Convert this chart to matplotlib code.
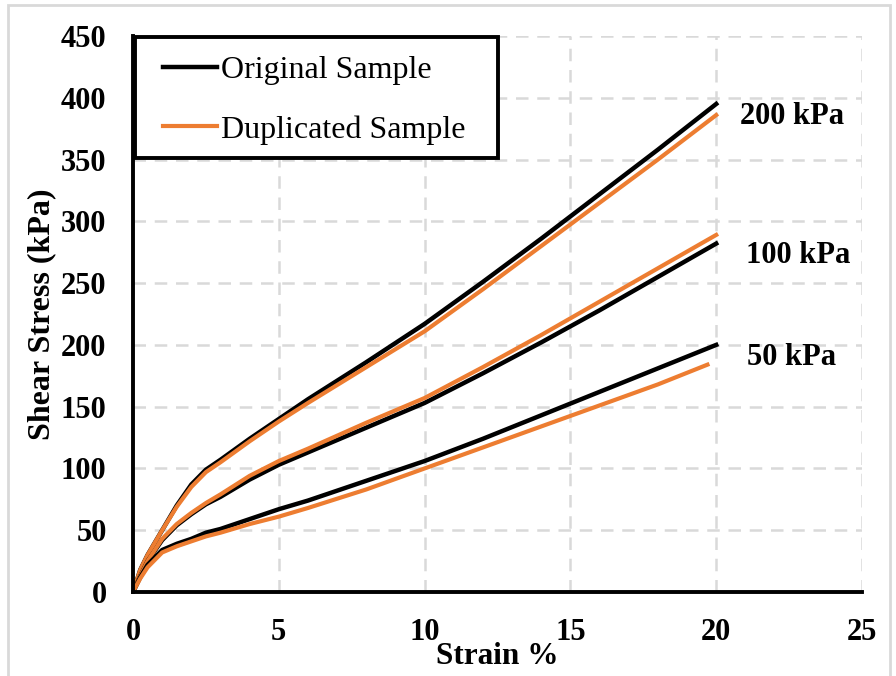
import numpy as np
import matplotlib.pyplot as plt
from matplotlib.patches import Rectangle

# strain (%) values where the curves were read
strain = [0, 0.25, 0.5, 1, 1.5, 2, 2.5, 3, 4, 5, 6, 8, 10, 12, 14, 16, 18, 20]
strain_dup50 = [0, 0.25, 0.5, 1, 1.5, 2, 2.5, 3, 4, 5, 6, 8, 10, 12, 14, 16, 18, 19.7]

# shear stress (kPa) for each normal stress
orig_200 = [0, 18, 30, 50, 70, 87, 99, 107, 124, 140, 156, 186, 217, 251, 286, 322, 358, 395]
dup_200 = [0, 18, 30, 50, 69, 85, 97, 105, 122, 138, 153, 182, 211, 245, 280, 315, 350, 386]
orig_100 = [0, 13, 25, 42, 54, 63, 71, 77, 91, 103, 113, 133, 153, 177, 202, 228, 255, 282]
dup_100 = [0, 13, 25, 43, 55, 64, 72, 79, 94, 106, 116, 137, 157, 182, 208, 235, 262, 289]
orig_50 = [0, 12, 22, 34, 39, 43, 48, 51, 59, 67, 74, 90, 106, 124, 143, 162, 181, 200]
dup_50 = [0, 11, 20, 32, 37, 41, 45, 48, 55, 61, 68, 83, 100, 117, 134, 151, 168, 184]

labels = ["200 kPa", "100 kPa", "50 kPa"]
label_pos = [(22.6, 385), (22.8, 272), (22.6, 190)]

plt.rcParams['font.family'] = ['Liberation Serif', 'DejaVu Serif']

fig = plt.figure(figsize=(8.96, 6.76), dpi=100)
ax = fig.add_axes([133/896, 1 - 592/676, 729/896, 556/676])

# 灰色外框
fig.patches.append(Rectangle((8/896, -0.01), 882/896, 1 - 5/676 + 0.01,
                             transform=fig.transFigure, fill=False,
                             edgecolor='#d9d9d9', lw=2))

blk = 'black'
org = '#ED7D31'
ax.plot(strain, orig_200, color=blk, lw=3.2, label="Original Sample")
ax.plot(strain, dup_200, color=org, lw=3, label="Duplicated Sample")
ax.plot(strain, orig_100, color=blk, lw=3.2)
ax.plot(strain, dup_100, color=org, lw=3)
ax.plot(strain, orig_50, color=blk, lw=3.2)
ax.plot(strain_dup50, dup_50, color=org, lw=3)

for t, (x, y) in zip(labels, label_pos):
    ax.text(x, y, t, fontsize=22, fontweight='bold', ha='center', va='center')

ax.set_xlim(0, 25)
ax.set_ylim(0, 450)
ax.set_xticks(np.arange(0, 26, 5))
ax.set_yticks(np.arange(0, 451, 50))
ax.tick_params(length=0, labelsize=22, pad=19)
for lab in ax.get_xticklabels() + ax.get_yticklabels():
    lab.set_fontweight('bold')

ax.grid(True, color='#d9d9d9', ls=(0, (5, 3.5)), lw=1.8)
ax.spines['top'].set_visible(False)
ax.spines['right'].set_visible(False)
ax.spines['left'].set_linewidth(2.8)
ax.spines['bottom'].set_linewidth(2.8)

ax.set_xlabel("Strain %", fontsize=22.5, fontweight='bold', labelpad=-4)
ax.set_ylabel("Shear Stress (kPa)", fontsize=23, fontweight='bold', labelpad=3)

# legend box drawn separately so the padding can follow the original
ax.add_patch(Rectangle((0.003, (592 - 158)/556), (498 - 135)/729, 121/556,
                       transform=ax.transAxes, facecolor='white',
                       edgecolor='black', lw=2.8, zorder=4, clip_on=False))
leg = ax.legend(loc='upper left', bbox_to_anchor=((163 - 133)/729, (592 - 56)/556),
                borderaxespad=0, borderpad=0, frameon=False,
                fontsize=23, handlelength=1.7, handletextpad=0.12,
                labelspacing=0.93)
leg.set_zorder(5)

plt.savefig("out.png")
